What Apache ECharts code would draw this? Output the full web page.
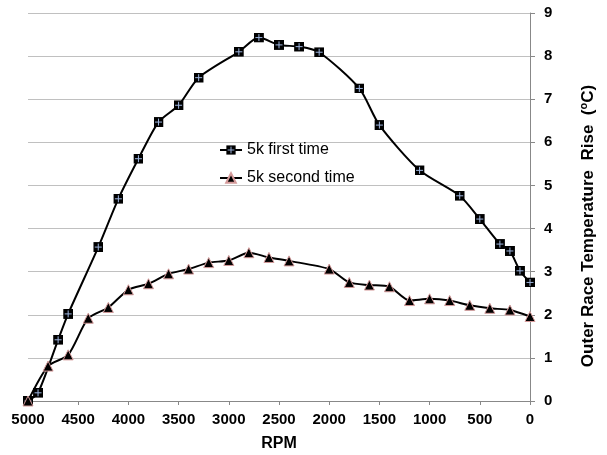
<!DOCTYPE html>
<html>
<head>
<meta charset="utf-8">
<script src="https://cdn.jsdelivr.net/npm/echarts@6/dist/echarts.min.js"></script>
<style>html,body{margin:0;padding:0;background:#fff}#c{width:607px;height:455px}</style>
</head>
<body>
<div id="c"></div>
<script>
const seriesNames = ['5k first time', '5k second time'];
const rpmFirst  = [5000, 4900, 4700, 4600, 4300, 4100, 3900, 3700, 3500, 3300, 2900, 2700, 2500, 2300, 2100, 1700, 1500, 1100, 700, 500, 300, 200, 100, 0];
const tempFirst = [0, 0.19, 1.42, 2.02, 3.57, 4.69, 5.62, 6.47, 6.86, 7.50, 8.10, 8.43, 8.26, 8.22, 8.09, 7.25, 6.40, 5.35, 4.76, 4.22, 3.64, 3.48, 3.02, 2.75];
const rpmSecond  = [5000, 4800, 4600, 4400, 4200, 4000, 3800, 3600, 3400, 3200, 3000, 2800, 2600, 2400, 2000, 1800, 1600, 1400, 1200, 1000, 800, 600, 400, 200, 0];
const tempSecond = [0, 0.81, 1.07, 1.92, 2.17, 2.58, 2.72, 2.95, 3.06, 3.21, 3.26, 3.44, 3.33, 3.25, 3.06, 2.75, 2.69, 2.65, 2.33, 2.37, 2.33, 2.22, 2.15, 2.11, 1.96];
const xTicks = {min: 0, max: 5000, interval: 500};
const yTicks = {min: 0, max: 9, interval: 1};

const pairs = (xs, ys) => xs.map((x, i) => [x, ys[i]]);
const sqSvg = 'image://data:image/svg+xml;utf8,' + encodeURIComponent(
  '<svg xmlns="http://www.w3.org/2000/svg" width="20" height="20"><rect width="20" height="20" fill="#000"/><path d="M10 3V17M3 10H17" stroke="#9fb6e0" stroke-width="2"/></svg>');

const chart = echarts.init(document.getElementById('c'), null, {renderer: 'canvas'});
const labelFont = {fontFamily: 'Liberation Sans', fontWeight: 'bold', fontSize: 15, color: '#000'};
chart.setOption({
  animation: false,
  backgroundColor: '#fff',
  grid: {left: 28, right: 77, top: 13, bottom: 54, containLabel: false, outerBoundsMode: 'none'},
  legend: {
    orient: 'vertical', left: 214, top: 137,
    itemWidth: 22, itemHeight: 12, itemGap: 12,
    textStyle: {fontFamily: 'Liberation Sans', fontSize: 16, color: '#000'},
    lineStyle: {width: 2},
    data: seriesNames
  },
  xAxis: {
    type: 'value', inverse: true,
    min: xTicks.min, max: xTicks.max, interval: xTicks.interval,
    name: 'RPM', nameLocation: 'middle', nameGap: 35,
    nameTextStyle: Object.assign({}, labelFont, {fontSize: 16}),
    axisLine: {lineStyle: {color: '#888', width: 1}},
    axisTick: {show: true, length: 4, lineStyle: {color: '#888'}},
    axisLabel: Object.assign({margin: 11, formatter: v => String(v)}, labelFont),
    splitLine: {show: false}
  },
  yAxis: {
    type: 'value', position: 'right',
    min: yTicks.min, max: yTicks.max, interval: yTicks.interval,
    name: '{a|Outer Race Temperature  Rise  (}{s|o}{a|C)}',
    nameLocation: 'middle', nameGap: 48, nameRotate: 90,
    nameTextStyle: {
      padding: [0, 38, 0, 0],
      rich: {
        a: {fontFamily: 'Liberation Sans', fontWeight: 'bold', fontSize: 17, color: '#000', lineHeight: 20},
        s: {fontFamily: 'Liberation Sans', fontWeight: 'bold', fontSize: 11, color: '#000', verticalAlign: 'top', lineHeight: 20, padding: [0, 0, 7, 0]}
      }
    },
    axisLine: {show: true, lineStyle: {color: '#888', width: 1}},
    axisTick: {show: true, length: 5, lineStyle: {color: '#888'}},
    axisLabel: Object.assign({margin: 14}, labelFont),
    splitLine: {show: true, lineStyle: {color: '#c0c0c0', width: 1}}
  },
  series: [
    {
      name: seriesNames[0], type: 'line', smooth: 0.25,
      data: pairs(rpmFirst, tempFirst),
      symbol: sqSvg, symbolSize: 10,
      lineStyle: {color: '#000', width: 2},
      itemStyle: {color: '#000'}
    },
    {
      name: seriesNames[1], type: 'line', smooth: 0.25,
      data: pairs(rpmSecond, tempSecond),
      symbol: 'triangle', symbolSize: 10,
      lineStyle: {color: '#000', width: 2},
      itemStyle: {color: '#000', borderColor: '#d49a9a', borderWidth: 1}
    }
  ]
});
</script>
</body>
</html>
